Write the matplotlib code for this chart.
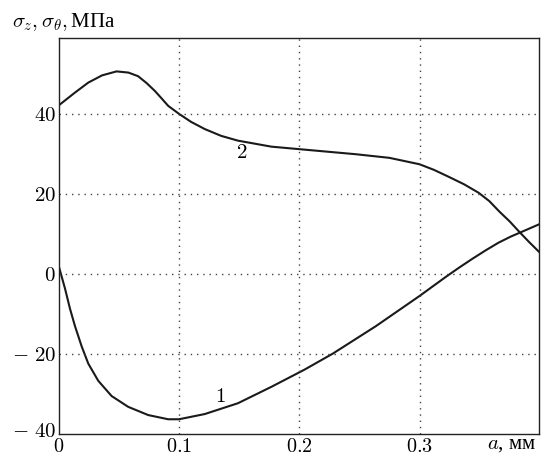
import matplotlib
matplotlib.use('Agg')
import matplotlib.pyplot as plt
import matplotlib.transforms as mtransforms

plt.rcParams['mathtext.fontset'] = 'cm'
plt.rcParams['font.family'] = ['Liberation Serif', 'DejaVu Serif']

# Кривая 1 (sigma_z)
a_1 = [0, 0.0052, 0.0094, 0.0135, 0.0191, 0.0246, 0.0329, 0.044, 0.0578,
       0.0744, 0.091, 0.1, 0.1214, 0.149, 0.1768, 0.2044, 0.2279, 0.2639, 0.3,
       0.311, 0.322, 0.333, 0.344, 0.355, 0.3656, 0.3756, 0.3856, 0.3994]
s_1 = [2.0, -3.6, -8.7, -13.0, -18.1, -22.4, -26.7, -30.5, -33.2,
       -35.25, -36.3, -36.3, -35.0, -32.3, -28.2, -23.9, -19.9, -13.0, -5.5,
       -3.1, -0.7, 1.6, 3.8, 5.9, 7.8, 9.3, 10.6, 12.4]

# Кривая 2 (sigma_theta)
a_2 = [0, 0.0135, 0.0246, 0.036, 0.0481, 0.058, 0.066, 0.073, 0.080, 0.086, 0.091,
       0.1, 0.11, 0.1214, 0.135, 0.149, 0.1768, 0.2027, 0.2473, 0.275, 0.3,
       0.312, 0.3247, 0.337, 0.349, 0.358, 0.3663, 0.375, 0.383, 0.391, 0.3994]
s_2 = [42.1, 45.3, 47.8, 49.6, 50.6, 50.3, 49.4, 47.7, 45.7, 43.7, 42.0,
       40.0, 38.0, 36.2, 34.5, 33.3, 31.8, 31.1, 29.9, 29.0, 27.4,
       26.0, 24.2, 22.4, 20.3, 18.2, 15.6, 13.1, 10.5, 8.0, 5.5]

xticks = [0, 0.1, 0.2, 0.3]
xticklabels = ['$0$', '$0.1$', '$0.2$', '$0.3$']
yticks = [-40, -20, 0, 20, 40]
yticklabels = [r'$-\ 40$', r'$-\ 20$', '$0$', '$20$', '$40$']

fig = plt.figure(figsize=(5.41, 4.55), dpi=100)
ax = fig.add_axes([0.1085, 0.046, 0.888, 0.871])

ax.plot(a_1, s_1, color='#1a1a1a', lw=1.5, solid_joinstyle='round')
ax.plot(a_2, s_2, color='#1a1a1a', lw=1.5, solid_joinstyle='round')

ax.set_xlim(0, 0.3994)
ax.set_ylim(-40, 59)

ax.set_xticks(xticks)
ax.set_xticklabels(xticklabels, fontsize=14.5)
ax.set_yticks(yticks)
ax.set_yticklabels(yticklabels, fontsize=15)
ax.tick_params(axis='y', length=0, pad=2)
ax.tick_params(axis='x', length=0, pad=2.5)

# подпись -40 чуть выше, чтобы не налезала на 0
lab = ax.get_yticklabels()[0]
lab.set_transform(lab.get_transform() + mtransforms.ScaledTranslation(0, 3 / 72, fig.dpi_scale_trans))

# сетка
for xv in xticks[1:]:
    ax.axvline(xv, color='#444444', ls=(0, (1, 3.5)), lw=1.0)
for yv in yticks[1:]:
    ax.axhline(yv, color='#444444', ls=(0, (1, 3.5)), lw=1.0)

for s in ax.spines.values():
    s.set_linewidth(1.0)
    s.set_color('#222222')

ax.text(0.1518, 30.0, '$2$', fontsize=15, ha='center', va='center')
ax.text(0.1344, -30.9, '$1$', fontsize=15, ha='center', va='center')

fig.text(0.022, 0.952, r'$\sigma_z, \sigma_\theta,$МПа', fontsize=15, ha='left', va='center')
fig.text(0.992, 0.022, '$a$, мм', fontsize=15, ha='right', va='center')

fig.savefig('out.png', dpi=100)
